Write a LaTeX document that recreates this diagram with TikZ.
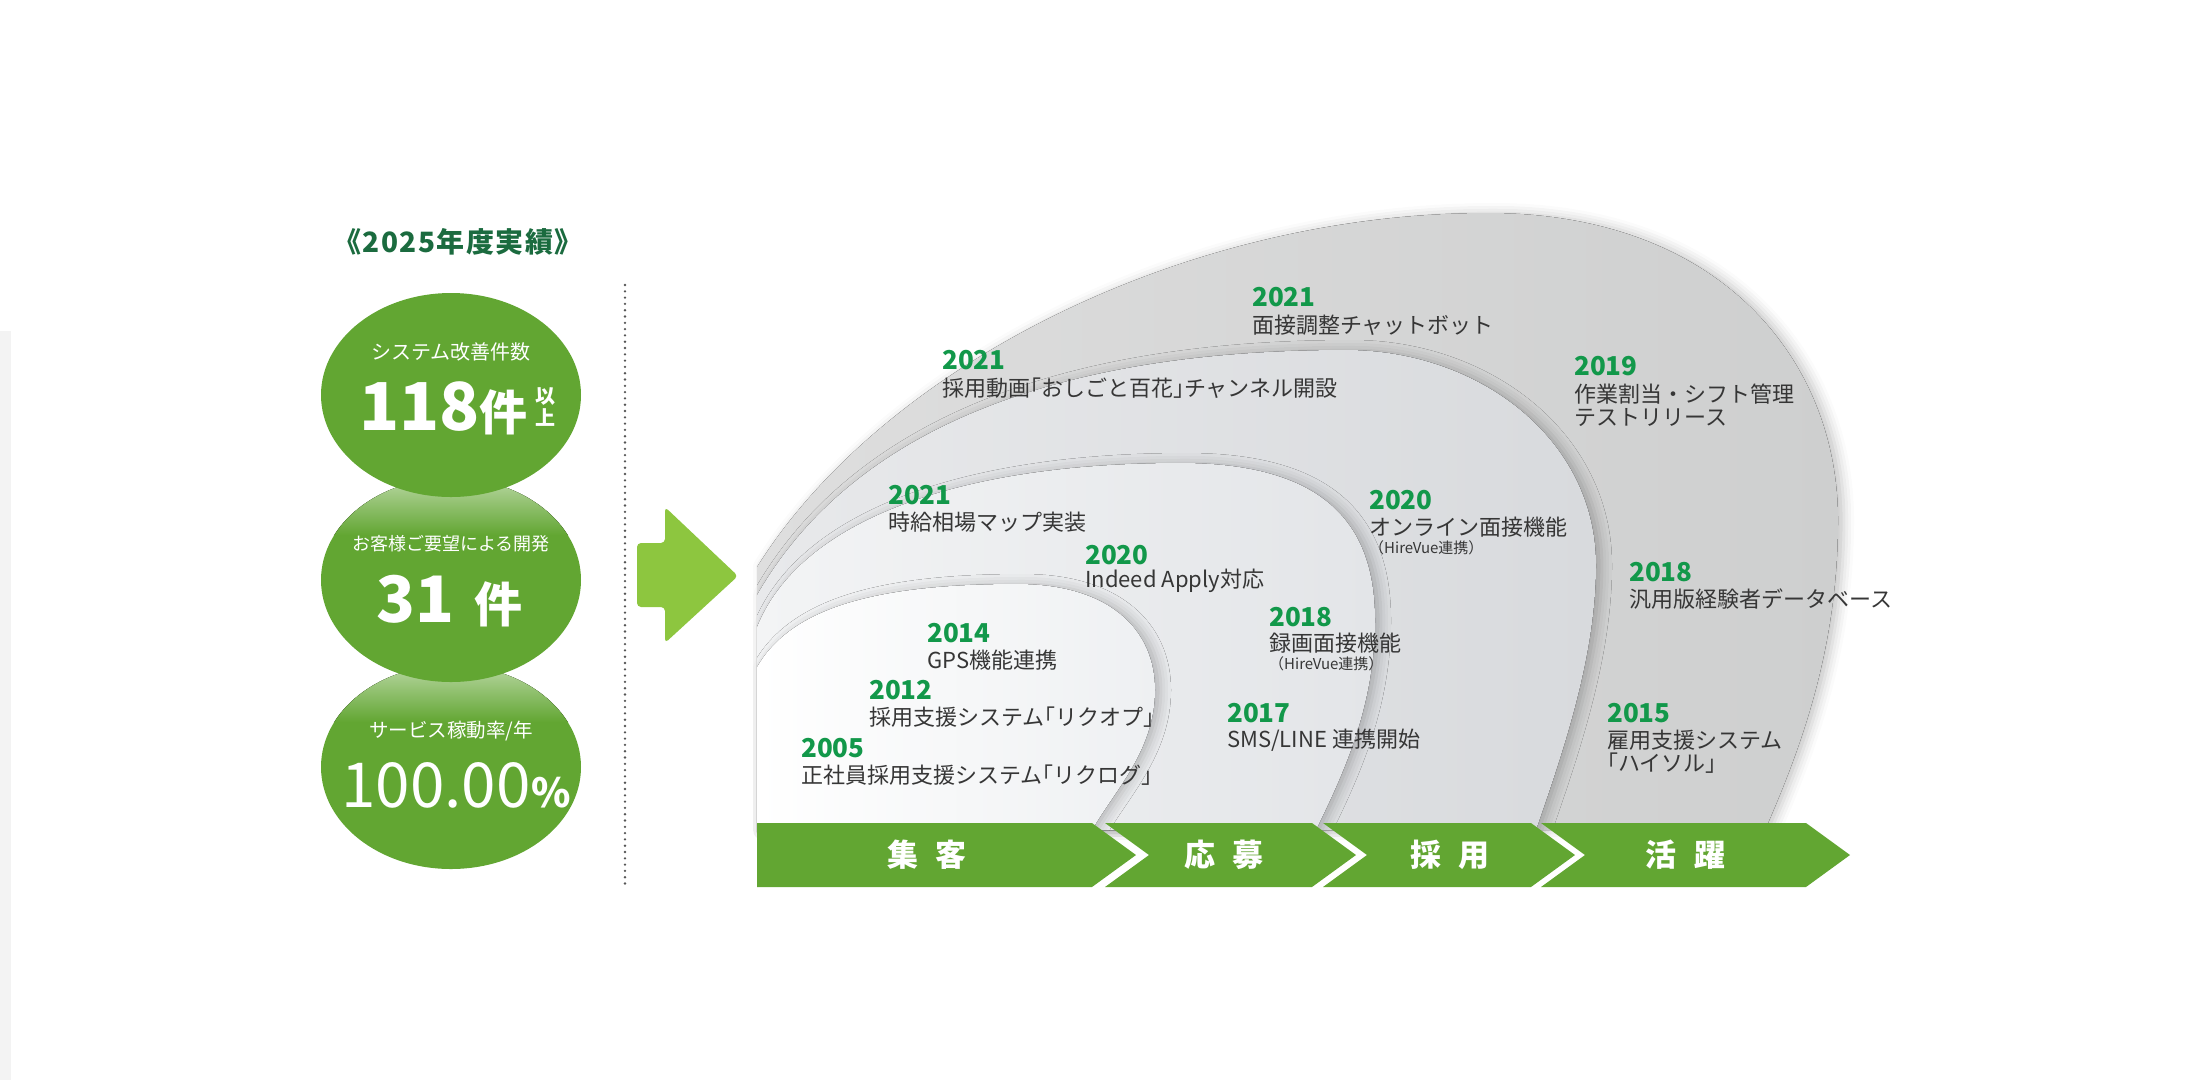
\documentclass[tikz,border=0pt]{standalone}
\usepackage{fontspec}
\setmainfont{Noto Sans CJK JP}
\usepackage{tikz}
\usetikzlibrary{shapes.geometric, positioning, shadows.blur}

\definecolor{leafgreen}{HTML}{62A632}
\definecolor{arrowgreen}{HTML}{8DC63F}
\definecolor{yeargreen}{HTML}{12984A}
\definecolor{titlegreen}{HTML}{1B6B3F}
\definecolor{inkgray}{HTML}{363636}
\definecolor{dotgray}{HTML}{555555}
\definecolor{stripgray}{HTML}{F3F3F3}
\definecolor{shellAl}{HTML}{DEDEDE}
\definecolor{shellAr}{HTML}{CECFCF}
\definecolor{shellBl}{HTML}{E8E9EB}
\definecolor{shellBr}{HTML}{D8DADD}
\definecolor{shellCl}{HTML}{F3F4F5}
\definecolor{shellCr}{HTML}{E3E5E8}
\definecolor{shellDl}{HTML}{FFFFFF}
\definecolor{shellDr}{HTML}{EEF0F2}

\newcommand{\halfbr}[1]{{\addfontfeature{CharacterWidth=AlternateHalf}#1}}

\begin{document}
\begin{tikzpicture}[
  x=1pt, y=-1pt,
  layer/.style={blur shadow={shadow xshift=6pt, shadow yshift=0pt, shadow blur radius=10pt, shadow opacity=22}},
  bubble/.style={ellipse, fill=leafgreen, minimum width=260pt, minimum height=204pt, inner sep=0pt},
  stattxt/.style={text=white, inner sep=0pt},
  yr/.style={anchor=west, inner sep=0pt, text=yeargreen, font=\fontsize{26}{26}\selectfont\bfseries},
  item/.style={anchor=west, inner sep=0pt, text=inkgray, align=left, font=\fontsize{22}{23}\selectfont},
  note/.style={inner sep=0pt, text=inkgray, font=\fontsize{15}{15}\selectfont},
  stage/.style={fill=leafgreen},
  stagetxt/.style={text=white, inner sep=0pt, font=\fontsize{31}{31}\selectfont\bfseries}
]
\useasboundingbox (0,0) rectangle (2211,1080);
\fill[stripgray] (0,331) rectangle (11,1080);

% left panel
\node[font=\fontsize{28}{28}\selectfont\bfseries\addfontfeature{LetterSpace=5}, text=titlegreen, inner sep=0pt] (title) at (458,242) {《2025年度実績》};

\node[bubble] (kadou) at (451,767) {};
\begin{scope}
  \clip (451,767) ellipse [x radius=130, y radius=102];
  \fill[top color=white!55!leafgreen, bottom color=leafgreen] (300,665) rectangle (600,722);
\end{scope}
\node[bubble] (youbou) at (451,580) {};
\begin{scope}
  \clip (451,580) ellipse [x radius=130, y radius=102];
  \fill[top color=white!55!leafgreen, bottom color=leafgreen] (300,478) rectangle (600,535);
\end{scope}
\node[bubble] (kaizen) at (451,395) {};

\node[stattxt, font=\fontsize{20}{20}\selectfont] (kaizenlbl) at (451,352) {システム改善件数};
\node[stattxt, anchor=base west, font=\fontsize{66}{66}\selectfont\bfseries] (kaizennum) at (359,430) {118};
\node[stattxt, anchor=base west, font=\fontsize{48}{48}\selectfont\bfseries] (kaizenunit) at (479,430) {件};
\node[stattxt, align=center, font=\fontsize{20}{22}\selectfont\bfseries] (kaizenmore) at (545,407) {以\\上};

\node[stattxt, font=\fontsize{18}{18}\selectfont] (youboulbl) at (451,544) {お客様ご要望による開発};
\node[stattxt, anchor=base west, font=\fontsize{64}{64}\selectfont\bfseries] (youbounum) at (376,622) {31};
\node[stattxt, anchor=base west, font=\fontsize{48}{48}\selectfont\bfseries] (youbouunit) at (474,622) {件};

\node[stattxt, font=\fontsize{19.5}{20}\selectfont] (kadoulbl) at (451,731) {サービス稼動率/年};
\node[stattxt, anchor=base west, font=\fontsize{62}{62}\selectfont] (kadounum) at (341,807) {100.00};
\node[stattxt, anchor=base west, font=\fontsize{40}{40}\selectfont\bfseries] (kadouunit) at (531,807) {\%};

\coordinate (divtop) at (625,285);
\coordinate (divbot) at (625,888);
\draw[dotgray, line width=2.6pt, line cap=round, dash pattern=on 0pt off 6.3pt] (divtop) -- (divbot);

\fill[arrowgreen, rounded corners=4pt] (637,543) -- (665,543) -- (665,507) -- (738,576) -- (665,643) -- (665,607) -- (637,607) -- cycle;

% layers
\fill[layer, left color=shellAl, right color=shellAr] (757,567) .. controls (880,370) and (1180,213) .. (1488,213) .. controls (1720,213) and (1838,360) .. (1838,520) .. controls (1838,650) and (1800,750) .. (1765,830) -- (757,830) -- cycle;
\fill[layer, left color=shellBl, right color=shellBr] (757,595) .. controls (840,450) and (1020,350) .. (1346,350) .. controls (1480,350) and (1596,440) .. (1596,565) .. controls (1596,660) and (1560,760) .. (1536,830) -- (757,830) -- cycle;
\fill[layer, left color=shellCl, right color=shellCr] (757,627) .. controls (800,520) and (960,463) .. (1180,463) .. controls (1320,463) and (1375,520) .. (1375,620) .. controls (1375,710) and (1340,780) .. (1316,830) -- (757,830) -- cycle;
\fill[layer, left color=shellDl, right color=shellDr] (757,667) .. controls (790,610) and (870,584) .. (1017,584) .. controls (1110,584) and (1155,630) .. (1155,690) .. controls (1155,750) and (1115,790) .. (1092,830) -- (757,830) -- cycle;

\node[yr] (chatyr) at (1252,297) {2021};
\node[item] (chat) at (1252,325) {面接調整チャットボット};
\node[yr] (movieyr) at (942,360) {2021};
\node[item] (movie) at (942,388) {採用動画\halfbr{「}おしごと百花\halfbr{」}チャンネル開設};
\node[yr] (wageyr) at (888,495) {2021};
\node[item] (wage) at (888,522) {時給相場マップ実装};
\node[yr] (indeedyr) at (1085,555) {2020};
\node[item] (indeed) at (1085,581) {Indeed Apply対応};
\node[yr] (recyr) at (1269,617) {2018};
\node[item] (rec) at (1269,643) {録画面接機能};
\node[note, below=3pt of rec.south west, anchor=north west] (recnote) {（HireVue連携）};
\node[yr] (gpsyr) at (927,633) {2014};
\node[item] (gps) at (927,660) {GPS機能連携};
\node[yr] (rikuopyr) at (869,690) {2012};
\node[item] (rikuop) at (869,717) {採用支援システム\halfbr{「}リクオプ\halfbr{」}};
\node[yr] (rikulogyr) at (801,748) {2005};
\node[item] (rikulog) at (801,775) {正社員採用支援システム\halfbr{「}リクログ\halfbr{」}};
\node[yr] (smsyr) at (1227,713) {2017};
\node[item] (sms) at (1227,740) {SMS/LINE 連携開始};
\node[yr] (onlineyr) at (1369,500) {2020};
\node[item] (online) at (1369,527) {オンライン面接機能};
\node[note, below=3pt of online.south west, anchor=north west] (onlinenote) {（HireVue連携）};
\node[yr] (shiftyr) at (1574,366) {2019};
\node[item] (shift) at (1574,405) {作業割当・シフト管理\\テストリリース};
\node[yr] (dbyr) at (1629,572) {2018};
\node[item] (db) at (1629,599) {汎用版経験者データベース};
\node[yr] (haisoruyr) at (1607,713) {2015};
\node[item] (haisoru) at (1607,752) {雇用支援システム\\\halfbr{「}ハイソル\halfbr{」}};

% stages
\fill[stage] (757,823) -- (1092,823) -- (1136,855) -- (1092,887) -- (757,887) -- cycle;
\fill[stage] (1105,823) -- (1312,823) -- (1356,855) -- (1312,887) -- (1105,887) -- (1149,855) -- cycle;
\fill[stage] (1323,823) -- (1531,823) -- (1575,855) -- (1531,887) -- (1323,887) -- (1367,855) -- cycle;
\fill[stage] (1541,823) -- (1806,823) -- (1850,855) -- (1806,887) -- (1541,887) -- (1585,855) -- cycle;
\node[stagetxt] (shukyaku) at (927,855) {集\hspace{18pt}客};
\node[stagetxt] (oubo) at (1224,855) {応\hspace{18pt}募};
\node[stagetxt] (saiyou) at (1450,855) {採\hspace{18pt}用};
\node[stagetxt] (katsuyaku) at (1685,855) {活\hspace{18pt}躍};

\end{tikzpicture}
\end{document}
